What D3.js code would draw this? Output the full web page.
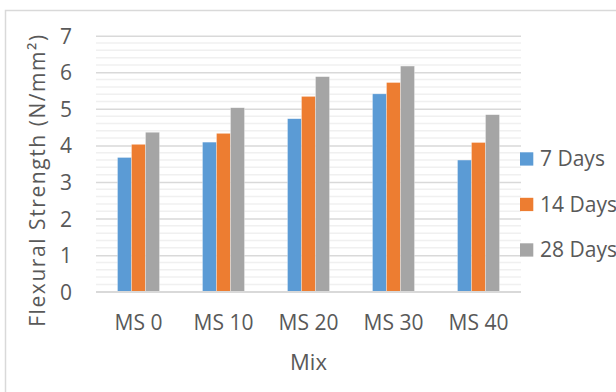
<!DOCTYPE html>
<html>
<head>
<meta charset="utf-8">
<script src="https://cdn.jsdelivr.net/npm/d3@7"></script>
<style>
  html, body { margin: 0; padding: 0; background: #fff; }
  svg { display: block; }
  text { font-family: "Open Sans", "Noto Sans", sans-serif; fill: #595959; }
</style>
</head>
<body>
<svg id="chart" width="616" height="392"></svg>
<script>
// Flexural strength per mix at three curing ages
const mixes = ["MS 0", "MS 10", "MS 20", "MS 30", "MS 40"];
const seriesNames = ["7 Days", "14 Days", "28 Days"];
const days7 = [3.67, 4.09, 4.73, 5.41, 3.60];
const days14 = [4.03, 4.33, 5.34, 5.72, 4.08];
const days28 = [4.36, 5.03, 5.88, 6.17, 4.84];
const yTicks = [0, 1, 2, 3, 4, 5, 6, 7];
const colors = ["#5B9BD5", "#ED7D31", "#A5A5A5"];

const series = [days7, days14, days28];

const svg = d3.select("#chart");
const W = 616, H = 392;
const FS = 21;

// outer frame of the chart area
svg.append("rect")
  .attr("x", 5.5).attr("y", 10.5)
  .attr("width", W).attr("height", H)
  .attr("fill", "none").attr("stroke", "#d9d9d9").attr("stroke-width", 1.5);

const plot = { left: 96, right: 521, top: 35.7, bottom: 291.7 };

const x = d3.scaleBand()
  .domain(mixes)
  .range([plot.left, plot.right])
  .paddingInner(0.506)
  .paddingOuter(0.253);

const xs = d3.scaleBand()
  .domain(seriesNames)
  .range([0, x.bandwidth()]);

const y = d3.scaleLinear().domain([0, 7]).range([plot.bottom, plot.top]);

// minor gridlines every 0.2
const minor = d3.range(0, 7.001, 0.2).filter(v => Math.abs(v - Math.round(v)) > 1e-6);
svg.append("g").selectAll("line").data(minor).join("line")
  .attr("x1", plot.left).attr("x2", plot.right)
  .attr("y1", d => y(d)).attr("y2", d => y(d))
  .attr("stroke", "#f0f0f0").attr("stroke-width", 1.5);

// major gridlines + left tick labels
const yAxis = d3.axisLeft(y).tickValues(yTicks).tickSize(-(plot.right - plot.left)).tickPadding(24).tickFormat(d3.format("d"));
const gy = svg.append("g").attr("transform", `translate(${plot.left},0)`).call(yAxis);
gy.select(".domain").remove();
gy.selectAll(".tick line").attr("stroke", "#d9d9d9").attr("stroke-width", 1.5);
gy.selectAll(".tick text")
  .style("font-size", FS + "px").attr("fill", "#595959").attr("dy", "0.36em");

// bars
const groups = svg.append("g").selectAll("g").data(mixes).join("g")
  .attr("transform", d => `translate(${x(d)},0)`);
groups.selectAll("rect")
  .data((d, i) => series.map((s, k) => ({ name: seriesNames[k], value: s[i], k })))
  .join("rect")
  .attr("x", d => xs(d.name))
  .attr("width", xs.bandwidth())
  .attr("y", d => y(d.value))
  .attr("height", d => y(0) - y(d.value))
  .attr("fill", d => colors[d.k])
  .attr("stroke", "#ffffff").attr("stroke-opacity", 0.5).attr("stroke-width", 0.6);

// category axis
const gx = svg.append("g").attr("transform", `translate(0,${plot.bottom})`)
  .call(d3.axisBottom(x).tickSize(0));
gx.select(".domain").attr("stroke", "#d9d9d9").attr("stroke-width", 1.5)
  .attr("d", `M${plot.left},0H${plot.right}`);
gx.selectAll(".tick text")
  .style("font-size", FS + "px").attr("fill", "#595959")
  .attr("y", 330 - plot.bottom).attr("dy", 0);

// axis titles
svg.append("text")
  .attr("x", (plot.left + plot.right) / 2).attr("y", 370)
  .attr("text-anchor", "middle").style("font-size", "22px")
  .text("Mix");

svg.append("text")
  .attr("transform", "translate(45,180.8) rotate(-90)")
  .attr("text-anchor", "middle").style("font-size", FS + "px")
  .attr("textLength", 292).attr("lengthAdjust", "spacing")
  .text("Flexural Strength (N/mm²)");

// legend
const legend = svg.append("g").selectAll("g").data(seriesNames).join("g")
  .attr("transform", (d, i) => `translate(520,${159 + i * 45.5})`);
legend.append("rect")
  .attr("x", 0).attr("y", -6.7).attr("width", 13.3).attr("height", 13.3)
  .attr("fill", (d, i) => colors[i]);
legend.append("text")
  .attr("x", 20).attr("dy", "0.35em")
  .style("font-size", FS + "px")
  .text(d => d);
</script>
</body>
</html>
